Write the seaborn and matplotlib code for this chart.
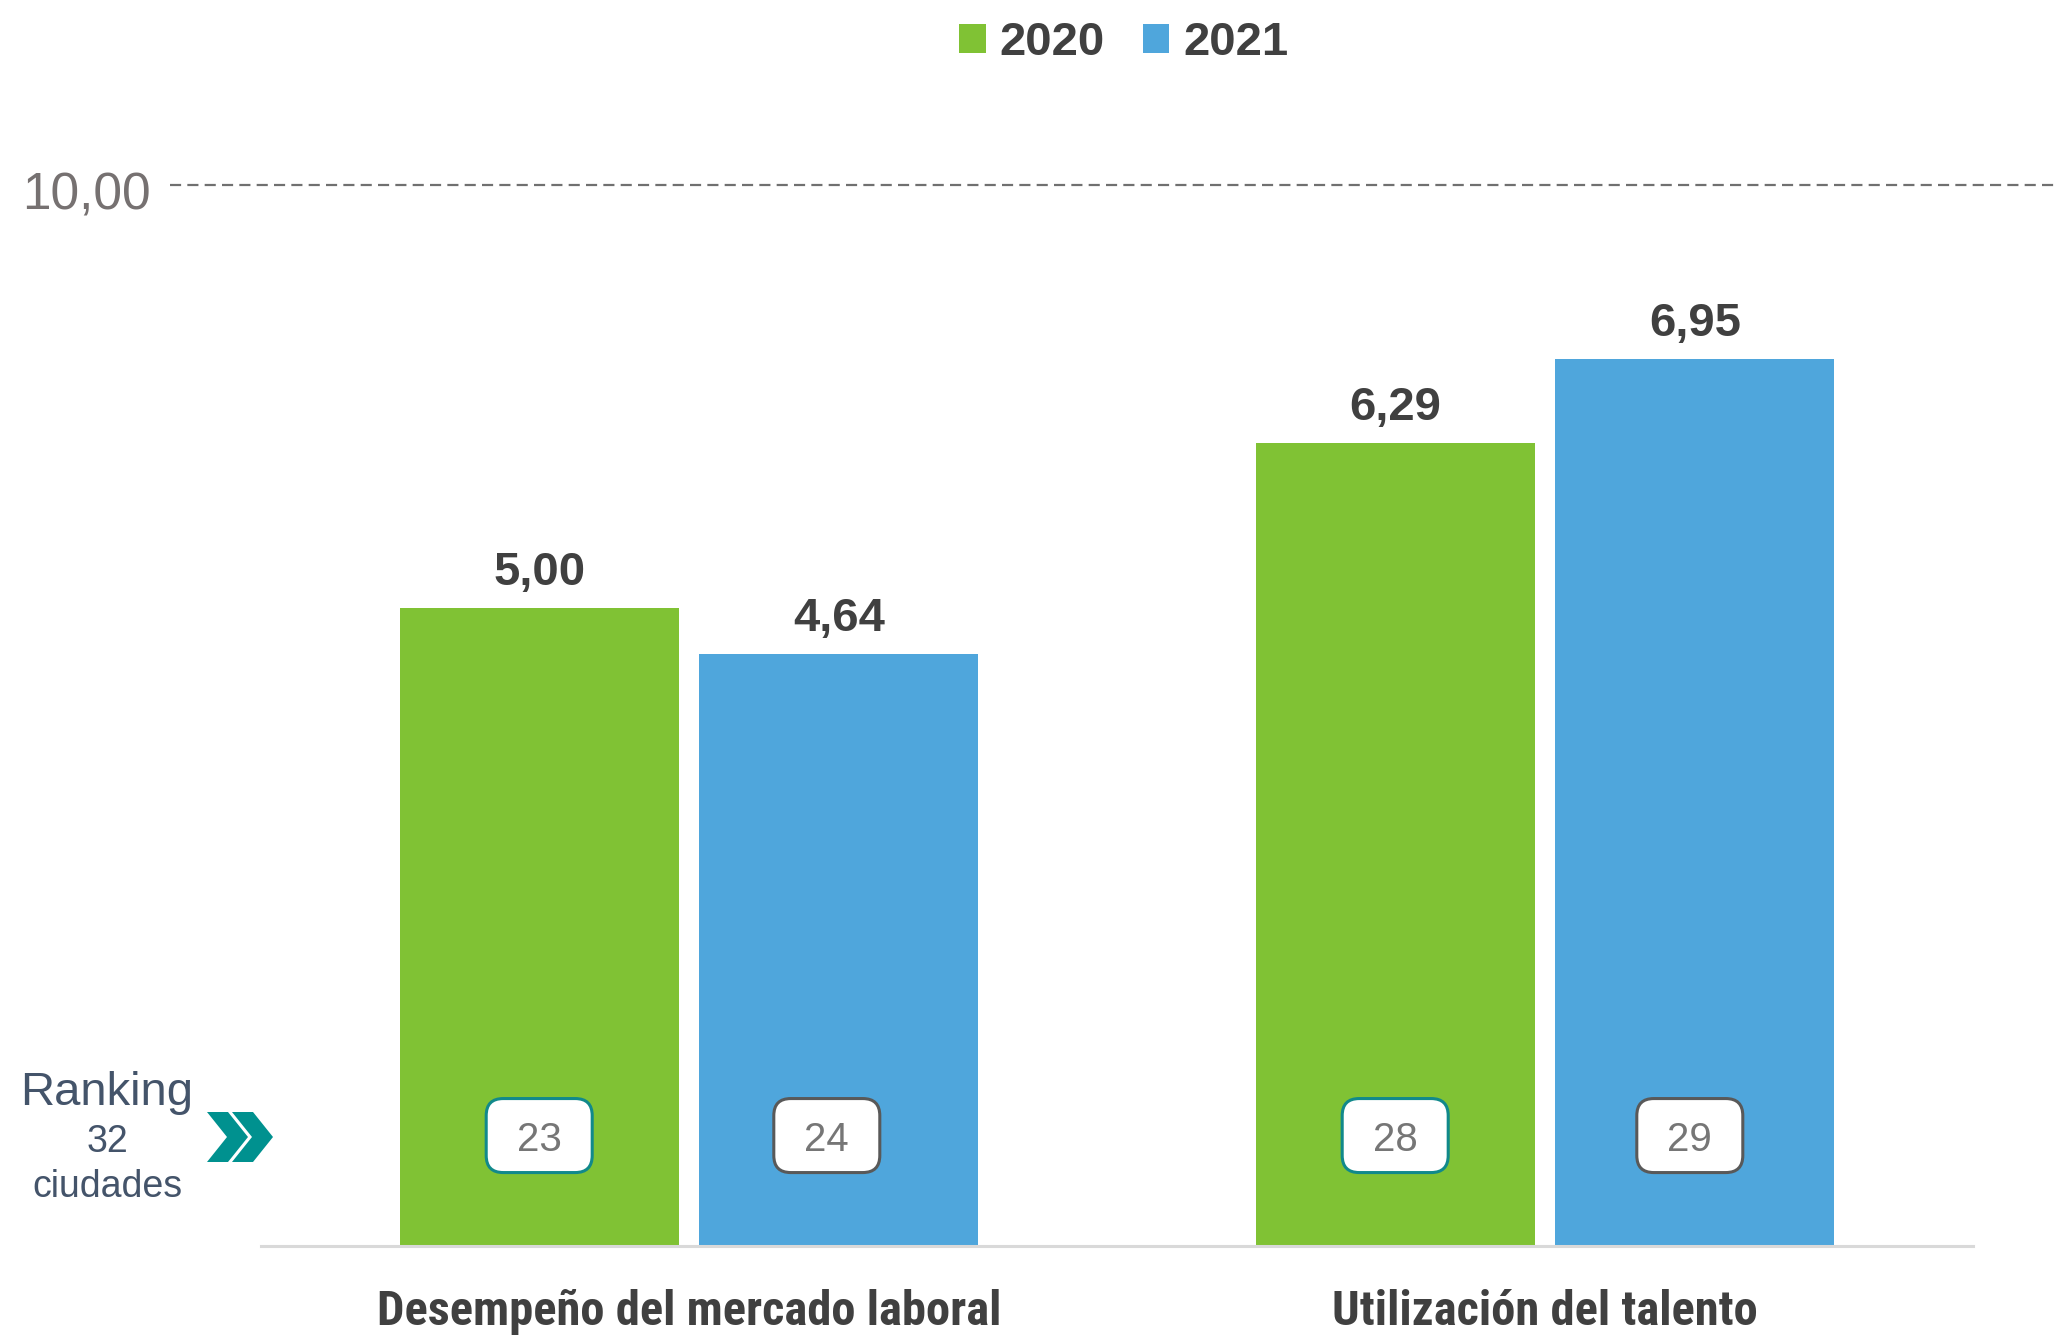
import matplotlib
matplotlib.use("Agg")
import matplotlib.pyplot as plt
import matplotlib.transforms as mtransforms
from matplotlib.patches import FancyBboxPatch, Polygon
from matplotlib.lines import Line2D
from matplotlib import font_manager
import seaborn as sns
import pandas as pd

# ---- data ----
categories = ["Desempeño del mercado laboral", "Utilización del talento"]
years = ["2020", "2021"]
values_2020 = [5.00, 6.29]
values_2021 = [4.64, 6.95]
ranks_2020 = [23, 28]
ranks_2021 = [24, 29]
max_label = "10,00"
ranking_title = "Ranking"
ranking_sub = ["32", "ciudades"]

GREEN = "#80C234"
BLUE = "#4FA6DC"
DARK = "#404040"
TEAL = "#11898B"
GREYBOX = "#595959"

df = pd.DataFrame({
    "categoria": categories * 2,
    "anio": [years[0]] * len(categories) + [years[1]] * len(categories),
    "valor": values_2020 + values_2021,
})
ranks = {years[0]: ranks_2020, years[1]: ranks_2021}

sns.set_theme(style="white")
plt.rcParams["font.family"] = ["Liberation Sans", "DejaVu Sans"]

# truly condensed bold font for category labels, if one is installed
def _is_cond(f):
    if "narrow" in f.name.lower() or "condensed" in f.name.lower():
        return True
    st = f.stretch
    if isinstance(st, str):
        return st in ("condensed", "extra-condensed", "ultra-condensed", "semi-condensed")
    return st < 500

def _is_bold(f):
    w = f.weight
    if isinstance(w, str):
        return w in ("bold", "semibold", "demibold", "heavy", "extra bold", "black")
    return w >= 600

cands = [f for f in font_manager.fontManager.ttflist
         if _is_cond(f) and _is_bold(f) and f.style == "normal"]
cands.sort(key=lambda f: (0 if "Liberation" in f.name else 1 if "Roboto" in f.name else 2,
                          abs((f.weight if isinstance(f.weight, int) else 700) - 700)))
label_font = font_manager.FontProperties(fname=cands[0].fname, size=35) if cands else None

W, H = 2059, 1337
fig = plt.figure(figsize=(W / 100, H / 100), dpi=100)
ax = fig.add_axes([261 / W, 1 - 1246 / H, (1973 - 261) / W, (1246 - 185) / H])

sns.barplot(data=df, x="categoria", y="valor", hue="anio",
            palette={years[0]: GREEN, years[1]: BLUE},
            width=0.7, gap=0.07, saturation=1, ax=ax, errorbar=None,
            linewidth=0)

ax.set_xlim(-0.5, 1.5)
ax.set_ylim(0, 8.31)
ax.set_xlabel("")
ax.set_ylabel("")
ax.set_yticks([])
for s in ["top", "right", "left"]:
    ax.spines[s].set_visible(False)
ax.spines["bottom"].set_color("#D9D9D9")
ax.spines["bottom"].set_linewidth(2.2)
ax.tick_params(axis="x", length=0, pad=57)
for lbl in ax.get_xticklabels():
    if label_font is not None:
        lbl.set_fontproperties(label_font)
    else:
        lbl.set_fontweight("bold")
        lbl.set_fontsize(31)
    lbl.set_color(DARK)
    lbl.set_va("baseline")

# value labels and rank boxes
box_dx = {years[0]: [0, 0], years[1]: [-0.12, -0.05]}  # inches, visual nudge
for container, yr in zip(ax.containers, years):
    for i, bar in enumerate(container):
        xc = bar.get_x() + bar.get_width() / 2
        h = bar.get_height()
        ax.annotate(f"{h:.2f}".replace(".", ","), (xc, h), xytext=(0, 16.5),
                    textcoords="offset points", ha="center", va="baseline",
                    fontsize=34, fontweight="bold", color=DARK)
        yb = 0.865
        dx = box_dx[yr][i]
        trans = fig.dpi_scale_trans + mtransforms.ScaledTranslation(xc, yb, ax.transData)
        bw, bh = 1.06, 0.74
        box = FancyBboxPatch((dx - bw / 2, -bh / 2), bw, bh,
                             boxstyle="round,pad=0,rounding_size=0.17",
                             transform=trans, facecolor="white",
                             edgecolor=TEAL if yr == years[0] else GREYBOX,
                             linewidth=2.2, zorder=5)
        ax.add_patch(box)
        ax.annotate(str(ranks[yr][i]), (xc, yb), xytext=(dx * 72, 0),
                    textcoords="offset points", ha="center", va="center_baseline",
                    fontsize=29, color="#767676", zorder=6)

# legend
sns.move_legend(ax, "center", bbox_to_anchor=(1124 / W, 1 - 43 / H),
                bbox_transform=fig.transFigure, ncol=2, frameon=False, title=None,
                handlelength=0.56, handleheight=0.56, handletextpad=0.3,
                columnspacing=0.8, fontsize=34)
leg = ax.get_legend()
for t in leg.get_texts():
    t.set_fontweight("bold")
    t.set_color(DARK)

# dashed max line and label
fig.add_artist(Line2D([170 / W, 1.0], [1 - 185 / H, 1 - 185 / H],
                      transform=fig.transFigure, color="#707070", lw=1.6,
                      linestyle=(0, (5.0, 2.8))))
fig.text(22 / W, 1 - 210 / H, max_label, fontsize=37, color="#767171",
         ha="left", va="baseline")

# ranking annotation
RK = "#44546A"
fig.text(107 / W, 1 - 1105 / H, ranking_title, fontsize=34, color=RK,
         ha="center", va="baseline")
fig.text(107 / W, 1 - 1152 / H, ranking_sub[0], fontsize=27, color=RK,
         ha="center", va="baseline")
fig.text(107 / W, 1 - 1197 / H, ranking_sub[1], fontsize=27, color=RK,
         ha="center", va="baseline")

def chevron(x0):
    pts = [(x0, 1112), (x0 + 21, 1112), (x0 + 41, 1137), (x0 + 21, 1162),
           (x0, 1162), (x0 + 20, 1137)]
    return Polygon([(px / W, 1 - py / H) for px, py in pts], closed=True,
                   transform=fig.transFigure, facecolor="#00918F", edgecolor="none")

fig.add_artist(chevron(207))
fig.add_artist(chevron(232))

fig.savefig("out.png", dpi=100, facecolor="white")
